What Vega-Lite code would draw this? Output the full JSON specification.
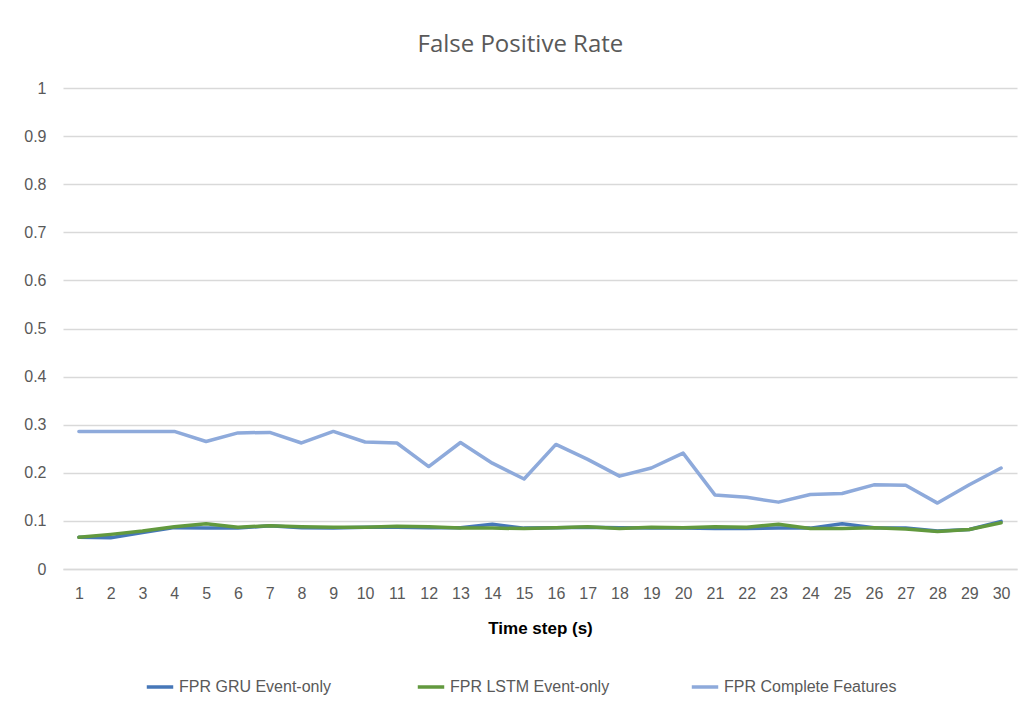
{
  "$schema": "https://vega.github.io/schema/vega-lite/v6.json",
  "width": 954,
  "height": 481,
  "autosize": {"type": "none"},
  "padding": {"left": 63, "top": 88, "right": 17, "bottom": 145},
  "background": "white",
  "title": {"text": "False Positive Rate", "fontSize": 24, "font": "Liberation Sans Narrow, Open Sans, sans-serif", "fontWeight": "normal", "color": "#595959", "anchor": "middle", "frame": "bounds", "offset": 23},
  "config": {"view": {"stroke": null}, "font": "Liberation Sans, sans-serif"},
  "data": {"values": [
    {"t":1,"s":"FPR Complete Features","v":0.286},{"t":2,"s":"FPR Complete Features","v":0.286},{"t":3,"s":"FPR Complete Features","v":0.286},{"t":4,"s":"FPR Complete Features","v":0.286},{"t":5,"s":"FPR Complete Features","v":0.265},{"t":6,"s":"FPR Complete Features","v":0.283},{"t":7,"s":"FPR Complete Features","v":0.284},{"t":8,"s":"FPR Complete Features","v":0.262},{"t":9,"s":"FPR Complete Features","v":0.286},{"t":10,"s":"FPR Complete Features","v":0.264},{"t":11,"s":"FPR Complete Features","v":0.262},{"t":12,"s":"FPR Complete Features","v":0.213},{"t":13,"s":"FPR Complete Features","v":0.263},{"t":14,"s":"FPR Complete Features","v":0.22},{"t":15,"s":"FPR Complete Features","v":0.187},{"t":16,"s":"FPR Complete Features","v":0.259},{"t":17,"s":"FPR Complete Features","v":0.228},{"t":18,"s":"FPR Complete Features","v":0.193},{"t":19,"s":"FPR Complete Features","v":0.21},{"t":20,"s":"FPR Complete Features","v":0.241},{"t":21,"s":"FPR Complete Features","v":0.154},{"t":22,"s":"FPR Complete Features","v":0.149},{"t":23,"s":"FPR Complete Features","v":0.139},{"t":24,"s":"FPR Complete Features","v":0.155},{"t":25,"s":"FPR Complete Features","v":0.157},{"t":26,"s":"FPR Complete Features","v":0.175},{"t":27,"s":"FPR Complete Features","v":0.174},{"t":28,"s":"FPR Complete Features","v":0.137},{"t":29,"s":"FPR Complete Features","v":0.175},{"t":30,"s":"FPR Complete Features","v":0.21},
    {"t":1,"s":"FPR  GRU  Event-only","v":0.066},{"t":2,"s":"FPR  GRU  Event-only","v":0.065},{"t":3,"s":"FPR  GRU  Event-only","v":0.076},{"t":4,"s":"FPR  GRU  Event-only","v":0.086},{"t":5,"s":"FPR  GRU  Event-only","v":0.085},{"t":6,"s":"FPR  GRU  Event-only","v":0.085},{"t":7,"s":"FPR  GRU  Event-only","v":0.09},{"t":8,"s":"FPR  GRU  Event-only","v":0.086},{"t":9,"s":"FPR  GRU  Event-only","v":0.085},{"t":10,"s":"FPR  GRU  Event-only","v":0.087},{"t":11,"s":"FPR  GRU  Event-only","v":0.087},{"t":12,"s":"FPR  GRU  Event-only","v":0.086},{"t":13,"s":"FPR  GRU  Event-only","v":0.086},{"t":14,"s":"FPR  GRU  Event-only","v":0.093},{"t":15,"s":"FPR  GRU  Event-only","v":0.085},{"t":16,"s":"FPR  GRU  Event-only","v":0.086},{"t":17,"s":"FPR  GRU  Event-only","v":0.087},{"t":18,"s":"FPR  GRU  Event-only","v":0.086},{"t":19,"s":"FPR  GRU  Event-only","v":0.085},{"t":20,"s":"FPR  GRU  Event-only","v":0.085},{"t":21,"s":"FPR  GRU  Event-only","v":0.084},{"t":22,"s":"FPR  GRU  Event-only","v":0.084},{"t":23,"s":"FPR  GRU  Event-only","v":0.085},{"t":24,"s":"FPR  GRU  Event-only","v":0.085},{"t":25,"s":"FPR  GRU  Event-only","v":0.094},{"t":26,"s":"FPR  GRU  Event-only","v":0.086},{"t":27,"s":"FPR  GRU  Event-only","v":0.085},{"t":28,"s":"FPR  GRU  Event-only","v":0.079},{"t":29,"s":"FPR  GRU  Event-only","v":0.082},{"t":30,"s":"FPR  GRU  Event-only","v":0.099},
    {"t":1,"s":"FPR  LSTM Event-only","v":0.066},{"t":2,"s":"FPR  LSTM Event-only","v":0.072},{"t":3,"s":"FPR  LSTM Event-only","v":0.079},{"t":4,"s":"FPR  LSTM Event-only","v":0.088},{"t":5,"s":"FPR  LSTM Event-only","v":0.094},{"t":6,"s":"FPR  LSTM Event-only","v":0.087},{"t":7,"s":"FPR  LSTM Event-only","v":0.09},{"t":8,"s":"FPR  LSTM Event-only","v":0.088},{"t":9,"s":"FPR  LSTM Event-only","v":0.087},{"t":10,"s":"FPR  LSTM Event-only","v":0.087},{"t":11,"s":"FPR  LSTM Event-only","v":0.089},{"t":12,"s":"FPR  LSTM Event-only","v":0.088},{"t":13,"s":"FPR  LSTM Event-only","v":0.085},{"t":14,"s":"FPR  LSTM Event-only","v":0.085},{"t":15,"s":"FPR  LSTM Event-only","v":0.084},{"t":16,"s":"FPR  LSTM Event-only","v":0.086},{"t":17,"s":"FPR  LSTM Event-only","v":0.088},{"t":18,"s":"FPR  LSTM Event-only","v":0.084},{"t":19,"s":"FPR  LSTM Event-only","v":0.087},{"t":20,"s":"FPR  LSTM Event-only","v":0.086},{"t":21,"s":"FPR  LSTM Event-only","v":0.088},{"t":22,"s":"FPR  LSTM Event-only","v":0.087},{"t":23,"s":"FPR  LSTM Event-only","v":0.093},{"t":24,"s":"FPR  LSTM Event-only","v":0.084},{"t":25,"s":"FPR  LSTM Event-only","v":0.084},{"t":26,"s":"FPR  LSTM Event-only","v":0.086},{"t":27,"s":"FPR  LSTM Event-only","v":0.083},{"t":28,"s":"FPR  LSTM Event-only","v":0.078},{"t":29,"s":"FPR  LSTM Event-only","v":0.082},{"t":30,"s":"FPR  LSTM Event-only","v":0.096}
  ]},
  "mark": {"type": "line", "strokeWidth": 3.5, "strokeJoin": "round", "strokeCap": "round"},
  "encoding": {
    "x": {"field": "t", "type": "ordinal", "scale": {"type": "point", "padding": 0.5},
      "axis": {"title": "Time step (s)", "titleFontSize": 17, "titleFontWeight": "bold", "titleColor": "#000000", "titlePadding": 19, "labelAngle": 0, "labelFontSize": 16, "labelColor": "#595959", "labelPadding": 16, "ticks": false, "domain": true, "domainColor": "#d9d9d9", "domainWidth": 1.3}},
    "y": {"field": "v", "type": "quantitative", "scale": {"domain": [0, 1]},
      "axis": {"title": null, "values": [0,0.1,0.2,0.3,0.4,0.5,0.6,0.7,0.8,0.9,1], "format": "~g", "labelFontSize": 16, "labelColor": "#595959", "labelPadding": 17, "ticks": false, "domain": false, "gridColor": "#d9d9d9", "gridWidth": 1.3}},
    "color": {"field": "s", "type": "nominal",
      "scale": {"domain": ["FPR  GRU  Event-only", "FPR  LSTM Event-only", "FPR Complete Features"], "range": ["#4677b8", "#62993e", "#8eaadb"]},
      "legend": {"title": null, "orient": "none", "legendX": 82, "legendY": 584, "direction": "horizontal", "symbolType": "stroke", "symbolSize": 700, "symbolStrokeWidth": 3.5, "labelFontSize": 16, "labelColor": "#595959", "labelLimit": 0, "columnPadding": 70, "labelOffset": 4}}
  }
}
